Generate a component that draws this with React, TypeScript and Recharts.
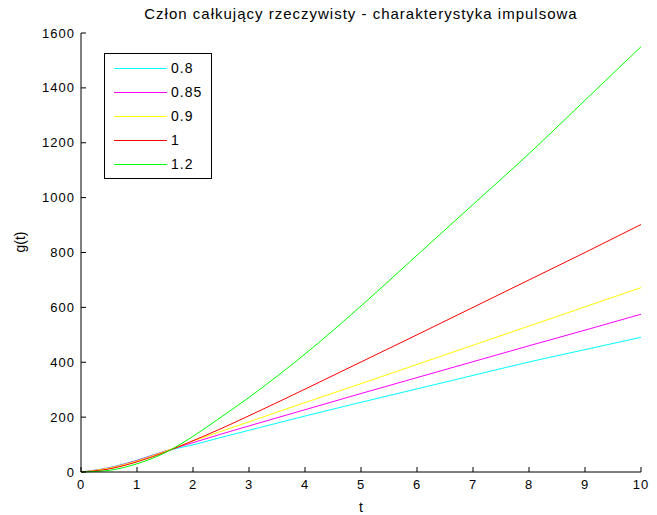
import { Line, LineChart, XAxis, YAxis } from "recharts";

const tValues = [0, 0.5, 1, 1.5, 2, 2.5, 3, 4, 5, 6, 7, 8, 9, 10];
const g080 = [0, 16, 43, 76, 99, 126, 152, 204, 254, 303, 352, 401, 446, 491];
const g085 = [0, 15, 42, 76, 107, 138, 168, 227, 286, 344, 402, 460, 517, 575];
const g090 = [0, 14, 40, 75, 113, 148, 183, 253, 322, 392, 462, 532, 602, 672];
const g100 = [0, 11, 37, 72, 114, 158, 205, 302, 401, 500, 600, 700, 800, 902];
const g120 = [0, 6, 30, 70, 130, 200, 272, 430, 605, 790, 975, 1160, 1355, 1550];

const xTicks = [0, 1, 2, 3, 4, 5, 6, 7, 8, 9, 10];
const yTicks = [0, 200, 400, 600, 800, 1000, 1200, 1400, 1600];

const series = [
  { key: "a", name: "0.8", values: g080, color: "#00ffff" },
  { key: "b", name: "0.85", values: g085, color: "#ff00ff" },
  { key: "c", name: "0.9", values: g090, color: "#ffff00" },
  { key: "d", name: "1", values: g100, color: "#ff0000" },
  { key: "e", name: "1.2", values: g120, color: "#00ff00" },
];

const data = tValues.map((t, i) => {
  const row: Record<string, number> = { t };
  series.forEach((s) => (row[s.key] = s.values[i]));
  return row;
});

const font = "'Liberation Sans', Arial, sans-serif";
const tickStyle = { fill: "#000", fontSize: 13, fontFamily: font, letterSpacing: 1 };

// legend drawn as an overlay so it doesn't eat plot space
function LegendBox() {
  return (
    <div style={{ position: "absolute", left: 104, top: 53, width: 106, height: 124, border: "1px solid #000", background: "#fff", fontFamily: font, fontSize: 14, letterSpacing: 1 }}>
      {series.map((s, i) => (
        <div key={s.key} style={{ position: "absolute", left: 0, top: 6 + i * 24, height: 16, display: "flex", alignItems: "center" }}>
          <div style={{ marginLeft: 9, width: 53, height: 0, borderTop: `1px solid ${s.color}` }} />
          <span style={{ marginLeft: 4, color: "#000", whiteSpace: "nowrap" }}>{s.name}</span>
        </div>
      ))}
    </div>
  );
}

export default function App() {
  return (
    <div style={{ position: "absolute", left: 0, top: 0, width: 657, height: 515, background: "#fff" }}>
      <LineChart width={657} height={515} data={data} margin={{ top: 33, right: 16, bottom: 0, left: 0 }}>
        <text x={361} y={19} textAnchor="middle" fontFamily={font} fontSize={15} letterSpacing={1} fill="#000">
          Człon całkujący rzeczywisty - charakterystyka impulsowa
        </text>
        <text x={361} y={512} textAnchor="middle" fontFamily={font} fontSize={14} fill="#000">
          t
        </text>
        <XAxis
          dataKey="t"
          type="number"
          domain={[0, 10]}
          ticks={xTicks}
          height={43}
          stroke="#000"
          tickSize={-5}
          tickMargin={13}
          tick={tickStyle}
        />
        <YAxis
          type="number"
          domain={[0, 1600]}
          ticks={yTicks}
          width={81}
          stroke="#000"
          tickSize={-5}
          tickMargin={11}
          tick={tickStyle}
          label={{ value: "g(t)", angle: -90, position: "insideLeft", offset: 20, fill: "#000", fontSize: 14, fontFamily: font }}
        />
        {series.map((s) => (
          <Line
            key={s.key}
            dataKey={s.key}
            name={s.name}
            stroke={s.color}
            strokeWidth={1}
            dot={false}
            type="monotone"
            isAnimationActive={false}
          />
        ))}
      </LineChart>
      <LegendBox />
    </div>
  );
}
